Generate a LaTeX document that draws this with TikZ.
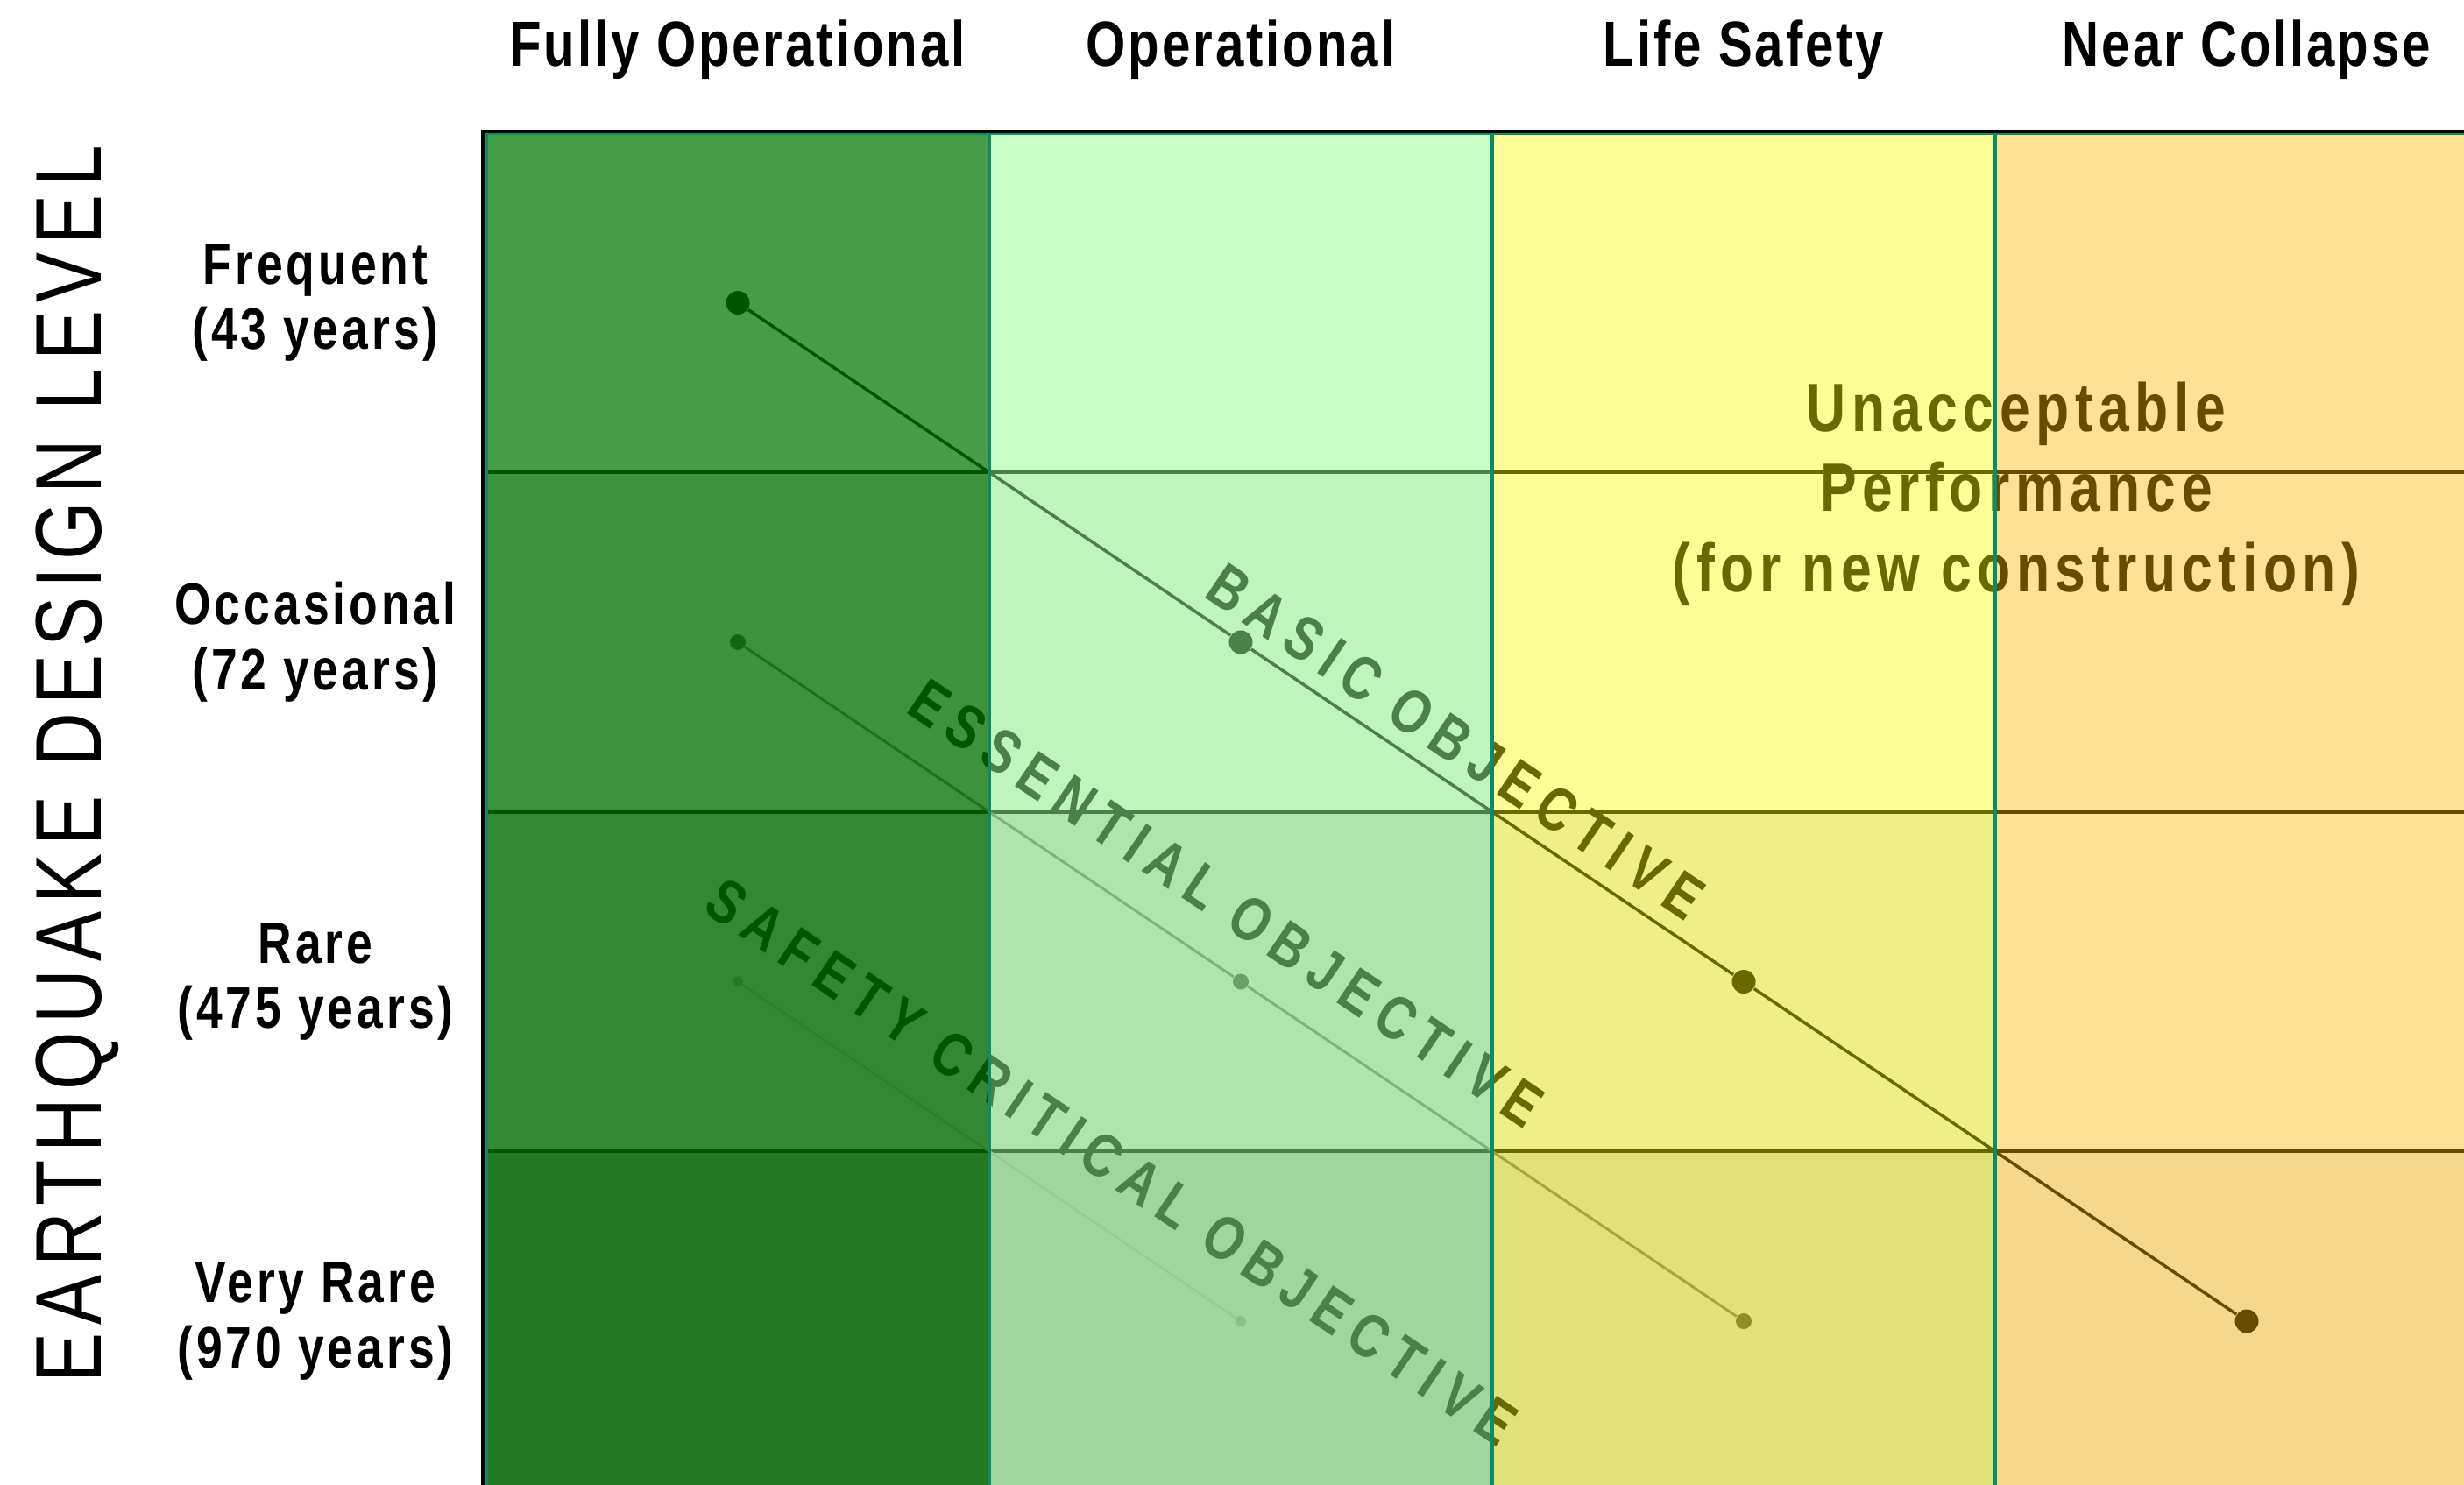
\documentclass[tikz,border=0pt]{standalone}
\usepackage{fontspec}
\usepackage{tikz}
\usetikzlibrary{positioning}

\newfontfamily\gridheadfont[FakeStretch=0.8, LetterSpace=4]{Liberation Sans}
\newfontfamily\rowlabelfont[FakeStretch=0.8, LetterSpace=6]{Liberation Sans}
\newfontfamily\leveltitlefont[FakeStretch=0.8, LetterSpace=8.6]{Liberation Sans}
\newfontfamily\objectivefont[FakeStretch=0.8, LetterSpace=17]{Liberation Sans}
\newfontfamily\verdictfont[FakeStretch=0.8, LetterSpace=8.5]{Liberation Sans}

\definecolor{fotint}{RGB}{0,120,0}
\definecolor{optint}{RGB}{146,255,146}
\definecolor{lstint}{RGB}{255,255,0}
\definecolor{nctint}{RGB}{255,184,0}
\definecolor{gridteal}{RGB}{10,140,105}

\tikzstyle{cell} = [rectangle, minimum width=5.74cm, minimum height=3.875cm,
    inner sep=0pt, outer sep=0pt]
\tikzstyle{rule} = [black, line width=0.04cm]
\tikzstyle{tint} = [draw=gridteal, line width=0.04cm]
\tikzstyle{frame} = [black, line width=0.045cm]
\tikzstyle{bigdot} = [circle, fill=black, minimum size=0.27cm, inner sep=0pt]
\tikzstyle{middot} = [circle, fill=black!75, minimum size=0.18cm, inner sep=0pt]
\tikzstyle{smalldot} = [circle, fill=black!50, minimum size=0.12cm, inner sep=0pt]
\tikzstyle{basicline} = [black, line width=0.035cm]
\tikzstyle{essentialline} = [black!60, line width=0.03cm]
\tikzstyle{safetyline} = [black!40, line width=0.03cm]
\tikzstyle{objective} = [sloped, inner sep=0pt, text=black,
    font=\objectivefont\bfseries\fontsize{20}{24}\selectfont]
\tikzstyle{verdict} = [align=center, text=black,
    font=\verdictfont\bfseries\fontsize{22.2}{26}\selectfont]
\tikzstyle{colhead} = [font=\gridheadfont\bfseries\fontsize{20.7}{25}\selectfont]
\tikzstyle{rowlabel} = [align=center,
    font=\rowlabelfont\bfseries\fontsize{19}{21.3}\selectfont]
\tikzstyle{leveltitle} = [font=\leveltitlefont\fontsize{30.4}{36}\selectfont]

\begin{document}
\begin{tikzpicture}
            \useasboundingbox (0,0) rectangle (28.12,-16.94);
            \clip (0,0) rectangle (28.12,-16.94);
            % Cells (shade under the column tints)
            \node[cell, fill=white] (fo-fr) at (8.42,-3.455) {};
            \node[cell, fill=black!14, below=0pt of fo-fr] (fo-oc) {};
            \node[cell, fill=black!28, below=0pt of fo-oc] (fo-ra) {};
            \node[cell, fill=black!51, below=0pt of fo-ra] (fo-vr) {};
            \node[cell, fill=white, right=0pt of fo-fr] (op-fr) {};
            \node[cell, fill=black!8, below=0pt of op-fr] (op-oc) {};
            \node[cell, fill=black!20, below=0pt of op-oc] (op-ra) {};
            \node[cell, fill=black!32, below=0pt of op-ra] (op-vr) {};
            \node[cell, fill=white, right=0pt of op-fr] (ls-fr) {};
            \node[cell, fill=white, below=0pt of ls-fr] (ls-oc) {};
            \node[cell, fill=black!10, below=0pt of ls-oc] (ls-ra) {};
            \node[cell, fill=black!20, below=0pt of ls-ra] (ls-vr) {};
            \node[cell, fill=white, right=0pt of ls-fr] (nc-fr) {};
            \node[cell, fill=white, below=0pt of nc-fr] (nc-oc) {};
            \node[cell, fill=white, below=0pt of nc-oc] (nc-ra) {};
            \node[cell, fill=black!6, below=0pt of nc-ra] (nc-vr) {};
            % Row rules
            \draw[rule] (fo-oc.north west) -- (nc-oc.north east);
            \draw[rule] (fo-ra.north west) -- (nc-ra.north east);
            \draw[rule] (fo-vr.north west) -- (nc-vr.north east);
            % Objective points
            \node[bigdot] (basic1) at (fo-fr) {};
            \node[bigdot] (basic2) at (op-oc) {};
            \node[bigdot] (basic3) at (ls-ra) {};
            \node[bigdot] (basic4) at (nc-vr) {};
            \node[middot] (essential1) at (fo-oc) {};
            \node[middot] (essential2) at (op-ra) {};
            \node[middot] (essential3) at (ls-vr) {};
            \node[smalldot] (safety1) at (fo-ra) {};
            \node[smalldot] (safety2) at (op-vr) {};
            % Objective lines
            \draw[basicline] (basic1) -- (basic2) -- node[objective, pos=0.38,
            above=0.17cm] {BASIC OBJECTIVE} (basic3) -- (basic4);
            \draw[essentialline] (essential1) -- node[objective, pos=0.92,
            above=0.39cm] {ESSENTIAL OBJECTIVE} (essential2) -- (essential3);
            \draw[safetyline] (safety1) -- node[objective, pos=0.68,
            above=0.42cm] {SAFETY CRITICAL OBJECTIVE} (safety2);
            \node[verdict] (unacceptable) at (23.01,-5.635)
            {Unacceptable\\Performance\\(for new construction)};
            % Column tints
            \draw[tint, fill=fotint, fill opacity=0.72] (fo-fr.north west) rectangle (fo-vr.south east);
            \draw[tint, fill=optint, fill opacity=0.506] (op-fr.north west) rectangle (op-vr.south east);
            \draw[tint, fill=lstint, fill opacity=0.412] (ls-fr.north west) rectangle (ls-vr.south east);
            \draw[tint, fill=nctint, fill opacity=0.412] (nc-fr.north west) rectangle (nc-vr.south east);
            \draw[frame] ([shift={(-0.035,0.02)}]fo-fr.north west) rectangle
            ([shift={(0.035,-0.02)}]nc-vr.south east);
            % Performance levels
            \node[colhead, above of=fo-fr, node distance=2.885cm] (fullyop) {Fully Operational};
            \node[colhead, above of=op-fr, node distance=2.885cm] (operational) {Operational};
            \node[colhead, above of=ls-fr, node distance=2.885cm] (lifesafety) {Life Safety};
            \node[colhead, above of=nc-fr, node distance=2.885cm] (nearcollapse) {Near Collapse};
            % Design levels
            \node[rowlabel, left of=fo-fr, node distance=4.82cm] (frequent) {Frequent\\(43 years)};
            \node[rowlabel, left of=fo-oc, node distance=4.82cm] (occasional) {Occasional\\(72 years)};
            \node[rowlabel, left of=fo-ra, node distance=4.82cm] (rare) {Rare\\(475 years)};
            \node[rowlabel, left of=fo-vr, node distance=4.82cm] (veryrare) {Very Rare\\(970 years)};
            \node[leveltitle, rotate=90] (level) at (0.88,-8.72) {EARTHQUAKE DESIGN LEVEL};
\end{tikzpicture}
\end{document}
